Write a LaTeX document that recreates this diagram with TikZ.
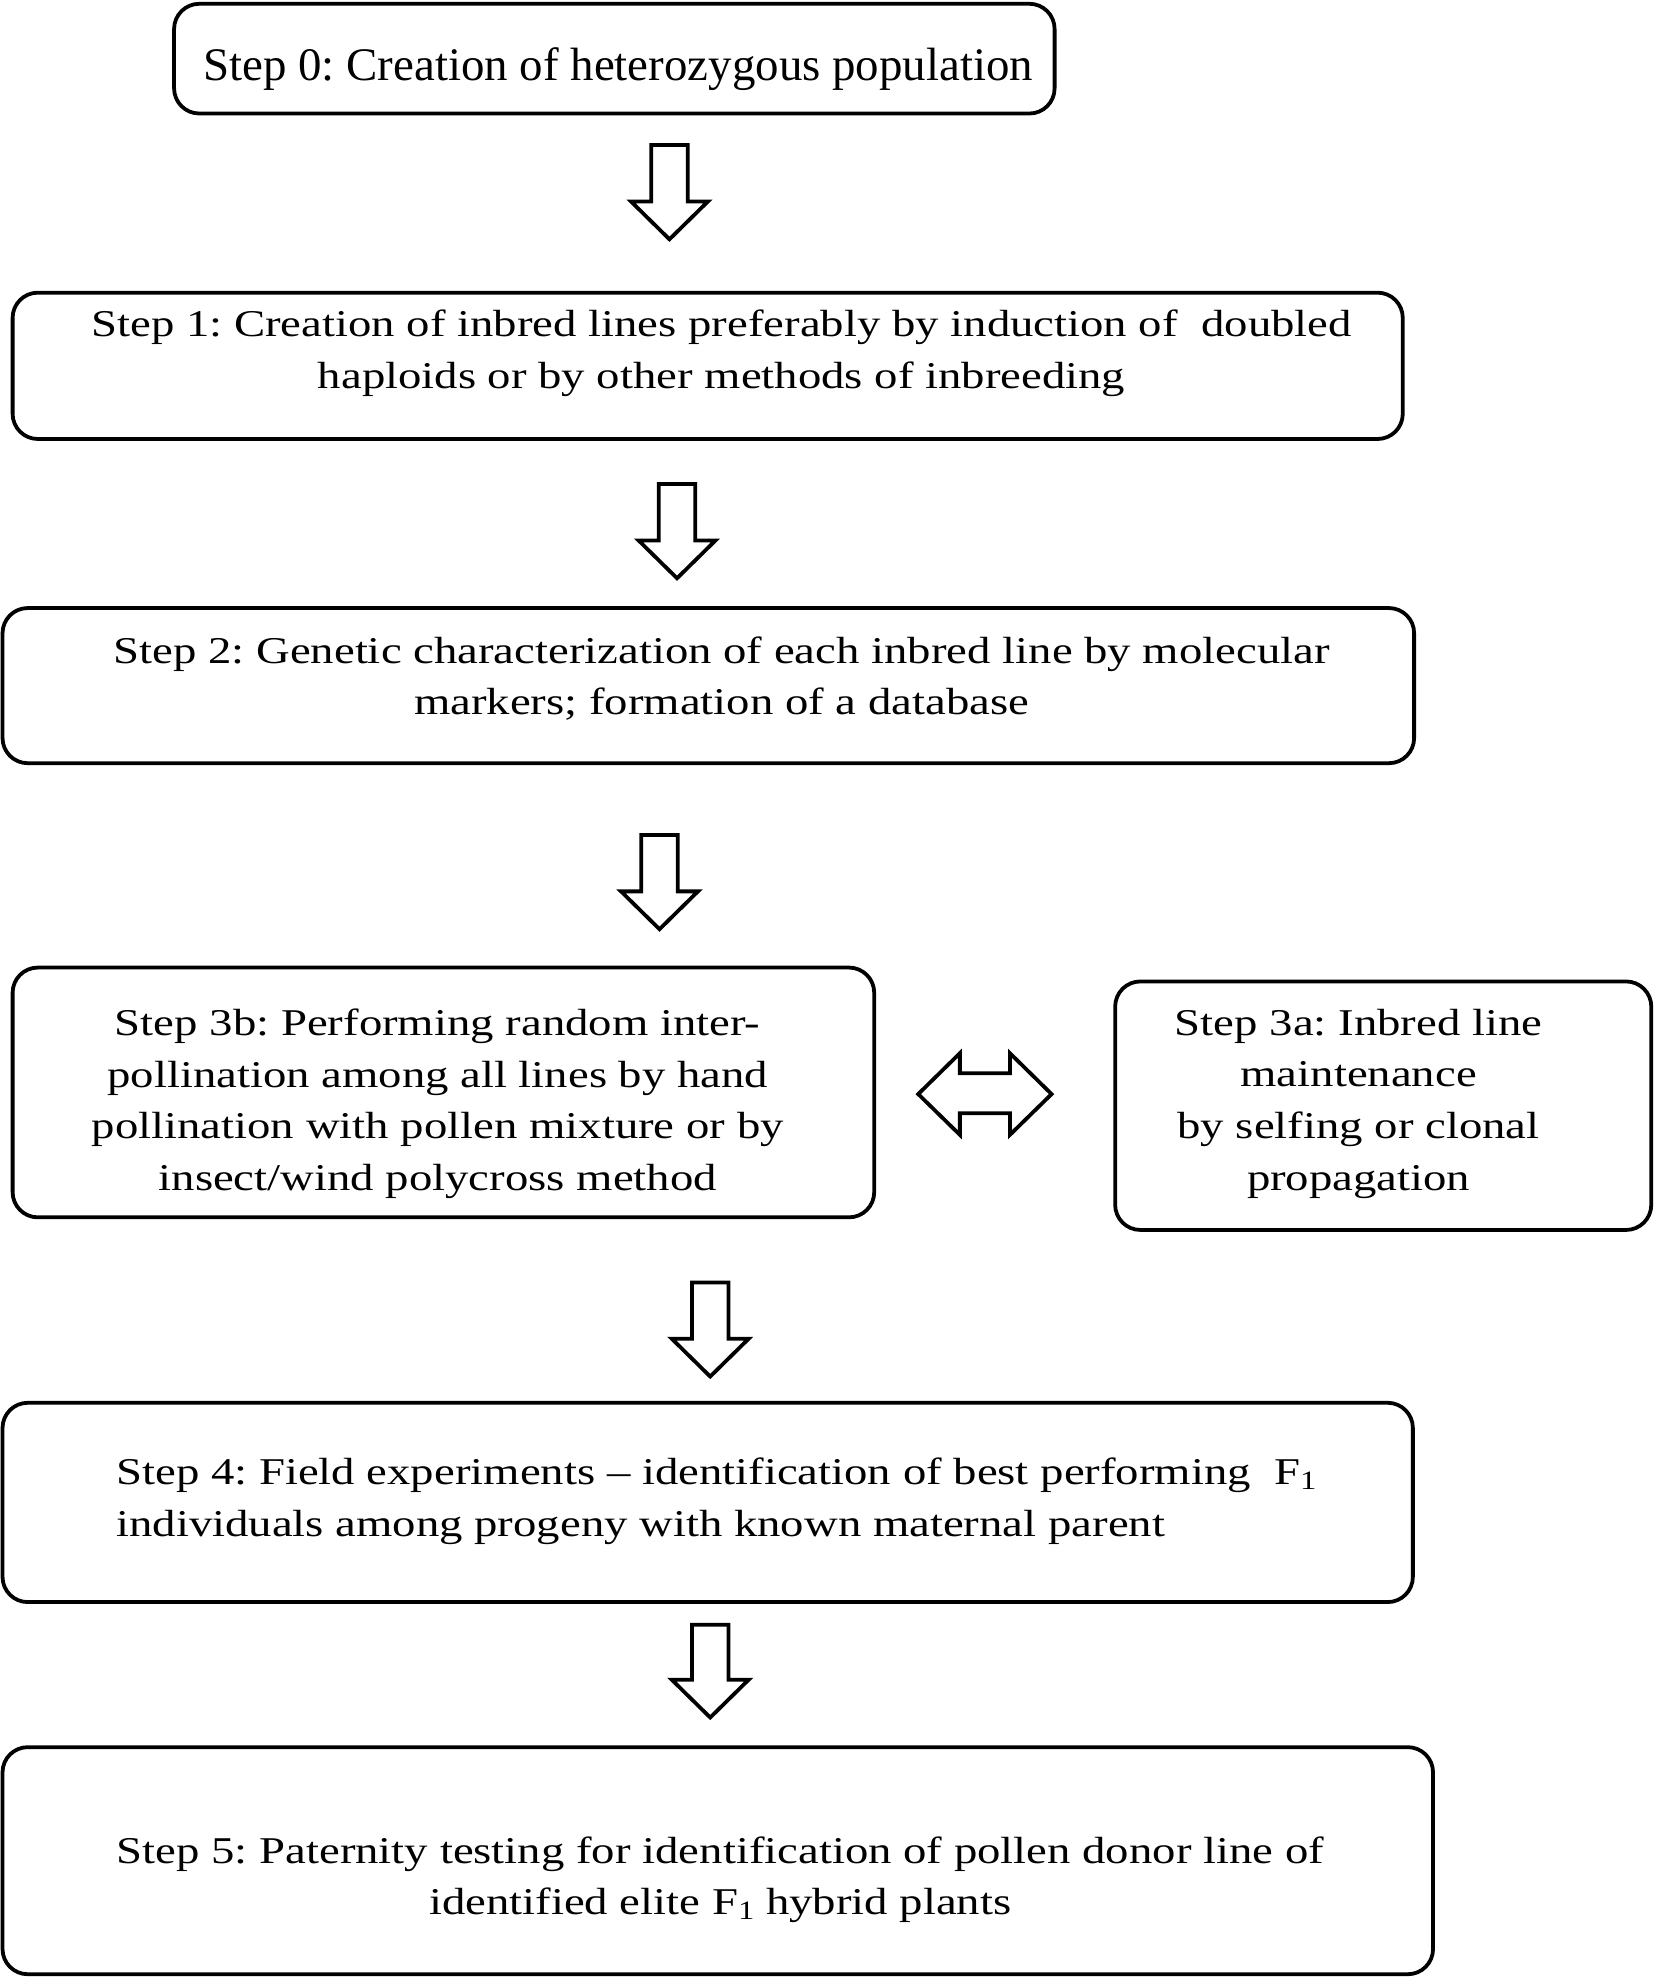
\documentclass[tikz,border=0pt]{standalone}
\usepackage{fontspec}
\setmainfont{Liberation Serif}[FakeStretch=1.235]
\newfontfamily\condfont{Liberation Serif}[FakeStretch=1.005]
\frenchspacing
\newcommand\subone{\raisebox{-4pt}{\fontsize{21}{21}\selectfont 1}}
\newcommand\blockdown[4]{% name, center x, top y, tip y
  \coordinate (#1) at (#2,#3);
  \draw[blk] ({#2-14.5},#3) -- ({#2+14.5},#3) -- ({#2+14.5},{#4-30}) -- ({#2+30.5},{#4-30})
    -- (#2,#4) -- ({#2-30.5},{#4-30}) -- ({#2-14.5},{#4-30}) -- cycle;}
\begin{document}
\begin{tikzpicture}[x=1pt,y=-1pt,
  box/.style={draw, line width=3pt, rounded corners=20pt, inner sep=0pt},
  txt/.style={align=center, font=\frenchspacing\fontsize{30}{41}\selectfont, inner sep=0pt},
  blk/.style={draw, line width=3pt, fill=white, line join=miter}]
\useasboundingbox (0,0) rectangle (1311,1568);
% boxes
\node[box, minimum width=698pt, minimum height=87pt] (b0) at (487,46.5) {};
\node[box, minimum width=1102pt, minimum height=116pt] (b1) at (561,290) {};
\node[box, minimum width=1119pt, minimum height=123pt] (b2) at (561.5,543.5) {};
\node[box, minimum width=683pt, minimum height=198pt] (b3b) at (351.5,866) {};
\node[box, minimum width=425pt, minimum height=197pt] (b3a) at (1096.5,876.5) {};
\node[box, minimum width=1118pt, minimum height=158pt] (b4) at (561,1191) {};
\node[box, minimum width=1134pt, minimum height=180pt] (b5) at (569,1475) {};
% texts
\node[txt, font=\condfont\frenchspacing\fontsize{37}{41}\selectfont] (t0) at (490,55) {Step 0: Creation of heterozygous population};
\node[txt] (t1) at (572,280) {Step 1: Creation of inbred lines preferably by induction of \ doubled\\haploids or by other methods of inbreeding};
\node[txt] (t2) at (572,538) {Step 2: Genetic characterization of each inbred line by molecular\\markers; formation of a database};
\node[txt] (t3b) at (347,875) {Step 3b: Performing random inter-\\pollination among all lines by hand\\pollination with pollen mixture or by\\insect/wind polycross method};
\node[txt] (t3a) at (1077,875) {Step 3a: Inbred line\\maintenance\\by selfing or clonal\\propagation};
\node[txt, align=left, anchor=west] (t4) at (92,1190) {Step 4: Field experiments -- identification of best performing \ F\subone\\individuals among progeny with known maternal parent};
\node[txt] (t5) at (571,1490) {Step 5: Paternity testing for identification of pollen donor line of\\identified elite F\subone{} hybrid plants};
% block arrows
\blockdown{a1}{530.7}{115}{189.7}
\blockdown{a2}{536.7}{383.6}{458.4}
\blockdown{a3}{522.8}{661.9}{736.6}
\blockdown{a4}{563}{1016.7}{1091.2}
\blockdown{a5}{563}{1288}{1361.5}
\draw[blk] (727.9,867.3) -- (760.9,834.9) -- (760.9,850.7) -- (800.6,850.7) -- (800.6,834.9)
  -- (833.6,867.3) -- (800.6,899.6) -- (800.6,882.4) -- (760.9,882.4) -- (760.9,899.6) -- cycle;
\end{tikzpicture}
\end{document}
